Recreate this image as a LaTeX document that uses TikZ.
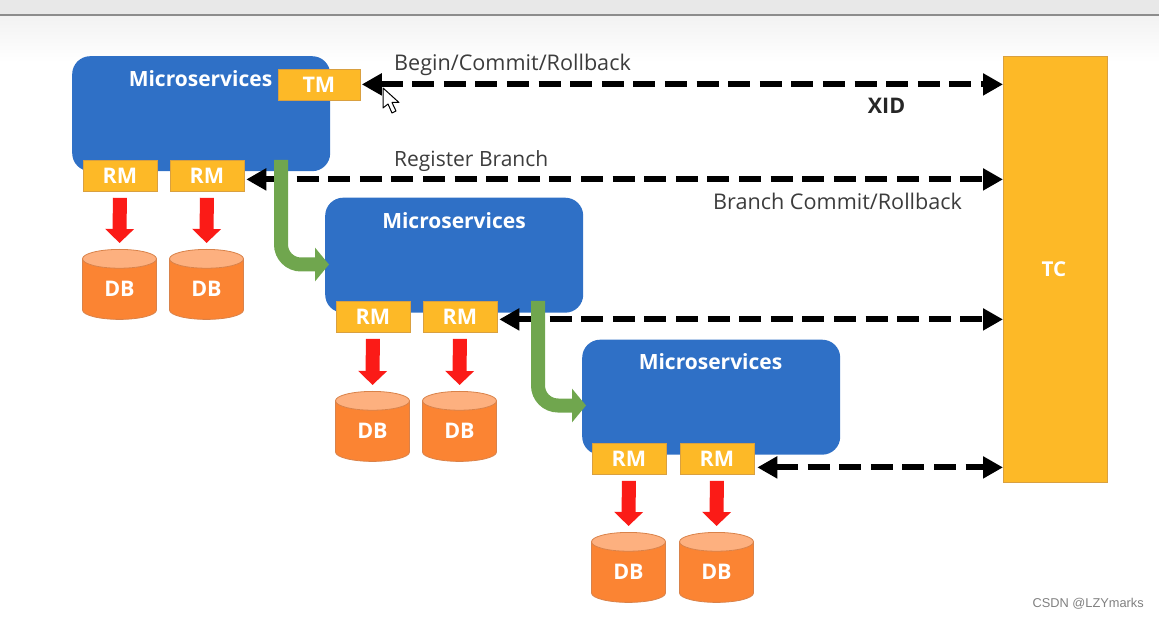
\documentclass[tikz,border=0pt]{standalone}
\usepackage{fontspec}
\setmainfont{Open Sans}
\newfontfamily\wmfont{Liberation Sans}
\usetikzlibrary{arrows.meta,shapes.geometric,positioning,calc,fadings}
\definecolor{msblue}{HTML}{2F70C6}
\definecolor{boxyellow}{HTML}{FDB927}
\definecolor{boxedge}{HTML}{D9A040}
\definecolor{dborange}{HTML}{FB8433}
\definecolor{dbtop}{HTML}{FDB07F}
\definecolor{dbedge}{HTML}{D9824A}
\definecolor{flowgreen}{HTML}{70A64E}
\definecolor{labelgrey}{HTML}{3C3C3C}
\definecolor{flowred}{HTML}{FB1B17}
\tikzset{
  msbox/.style={fill=msblue,rounded corners=18pt,minimum width=258pt,minimum height=115pt,inner sep=0pt,anchor=north west},
  mstext/.style={text=white,font=\bfseries\fontsize{21}{24}\selectfont,inner sep=0pt},
  ybox/.style={fill=boxyellow,draw=boxedge,line width=0.8pt,minimum width=74pt,minimum height=31pt,inner sep=0pt,anchor=north west,text=white,font=\bfseries\fontsize{21.5}{24}\selectfont,xshift=-0.5pt},
  dbcyl/.style={cylinder,shape border rotate=90,aspect=0.62,draw=dbedge,line width=0.8pt,cylinder uses custom fill,cylinder body fill=dborange,cylinder end fill=dbtop,minimum width=74pt,minimum height=70pt,inner sep=0pt,anchor=north,text=white,font=\bfseries\fontsize{21.5}{24}\selectfont,xshift=-0.5pt},
  bidash/.style={draw=black,line width=6pt,dash pattern=on 22pt off 9.6pt,{Triangle[length=20pt,width=21pt]}-{Triangle[length=20pt,width=21pt]}},
  redarrow/.style={draw=flowred,line width=14pt,-{Triangle[length=14pt,width=28pt]}},
  greenarrow/.style={draw=flowgreen,line width=14pt,rounded corners=20pt,-{Triangle[length=14pt,width=33pt]}},
  lbl/.style={text=labelgrey,inner sep=0pt,anchor=base west,font=\fontsize{21.6}{24}\selectfont},
}
\begin{document}
\begin{tikzpicture}[x=1pt,y=-1pt]
\useasboundingbox (0,0) rectangle (1159,617);
% window chrome
\fill[black!9] (0,0) rectangle (1159,14);
\shade[top color=black!5,bottom color=white] (0,16) rectangle (1159,62);
\draw[black!45,line width=1.5pt] (0,15) -- (1159,15);
% service boxes
\node[msbox] (ms1) at (72,56) {};
\node[msbox] (ms2) at (325,197.5) {};
\node[msbox] (ms3) at (582,339.5) {};
\node[mstext] (ms1t) at (200.5,79) {Microservices};
\node[mstext] (ms2t) at (454,221) {Microservices};
\node[mstext] (ms3t) at (710.5,362) {Microservices};
% TC
\node[fill=boxyellow,draw=boxedge,line width=0.8pt,minimum width=104pt,minimum height=426pt,inner sep=0pt,anchor=north west,text=white,font=\bfseries\fontsize{20.5}{24}\selectfont] (tc) at (1003,56) {\hspace{-3pt}TC};
% TM, RM
\node[ybox,minimum width=82pt] (tm) at (278,69) {TM};
\node[ybox] (rm1a) at (83,160) {RM};
\node[ybox] (rm1b) at (170,160) {RM};
\node[ybox] (rm2a) at (336,301) {RM};
\node[ybox] (rm2b) at (423,301) {RM};
\node[ybox] (rm3a) at (592,443) {RM};
\node[ybox] (rm3b) at (680,443) {RM};
% DB
\node[dbcyl] (db1a) at (120,249) {DB};
\node[dbcyl] (db1b) at (207,249) {DB};
\node[dbcyl] (db2a) at (373,391) {DB};
\node[dbcyl] (db2b) at (460,391) {DB};
\node[dbcyl] (db3a) at (629,532) {DB};
\node[dbcyl] (db3b) at (717,532) {DB};
% red arrows
\foreach \a/\b in {rm1a/db1a,rm1b/db1b,rm2a/db2a,rm2b/db2b,rm3a/db3a,rm3b/db3b}{
  \draw[redarrow,shorten <=6pt,shorten >=6pt] (\a.south) -- (\b.north);
}
% dashed connectors
\coordinate (a1l) at ($(tm.east)+(1.5,-0.5)$);
\draw[bidash] (a1l) -- (a1l -| tc.west);
\coordinate (a2l) at ($(rm1b.east)+(2,3.5)$);
\draw[bidash] (a2l) -- (a2l -| tc.west);
\coordinate (a3l) at ($(rm2b.east)+(2,2.5)$);
\draw[bidash] (a3l) -- (a3l -| tc.west);
\coordinate (a4l) at ($(rm3b.east)+(3,8.5)$);
\draw[bidash] (a4l) -- (a4l -| tc.west);
% green arrows
\coordinate (g1s) at (281,160);
\coordinate (g1e) at (ms2.west |- 0,264.5);
\draw[greenarrow,shorten >=-4pt] (g1s) |- (g1e);
\coordinate (g2s) at (538,301);
\coordinate (g2e) at (ms3.west |- 0,405.5);
\draw[greenarrow,shorten >=-4pt] (g2s) |- (g2e);
% labels
\node[lbl] (l1) at (394,70.5) {Begin/Commit/Rollback};
\node[lbl,font=\fontsize{21}{24}\selectfont] (l2) at (394,167) {Register Branch};
\node[lbl] (l3) at (713,209.5) {Branch Commit/Rollback};
\node[inner sep=0pt,text=black!85,font=\bfseries\fontsize{21.5}{24}\selectfont] (xid) at (886.5,106) {XID};
% cursor
\draw[fill=white,draw=black,line width=1pt,line join=round] (383,88) -- (383,108) -- (388,104) -- (392,113) -- (396,111) -- (392,102.5) -- (399,102.5) -- cycle;
% watermark
\node[inner sep=0pt,text=black!50,font=\wmfont\fontsize{12.8}{16}\selectfont,anchor=base east] (wm) at (1144,607) {CSDN @LZYmarks};
\end{tikzpicture}
\end{document}
